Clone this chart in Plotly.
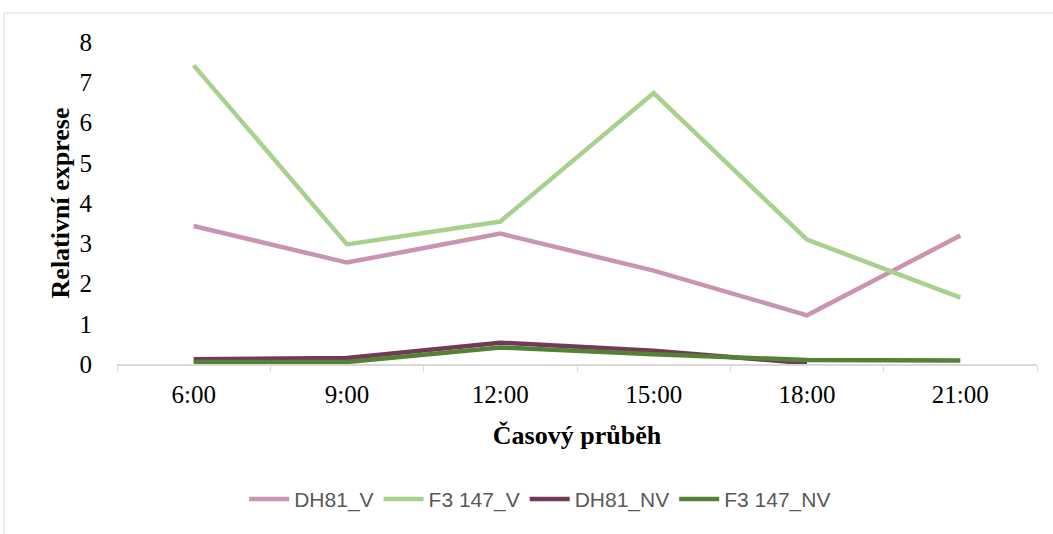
import plotly.graph_objects as go

categories = ["6:00", "9:00", "12:00", "15:00", "18:00", "21:00"]
dh81_v = [3.43, 2.52, 3.24, 2.32, 1.21, 3.19]
f3_147_v = [7.42, 2.97, 3.54, 6.73, 3.09, 1.65]
dh81_nv = [0.12, 0.15, 0.53, 0.33, 0.02, None]
f3_147_nv = [0.05, 0.05, 0.41, 0.24, 0.10, 0.09]

series = [
    ("DH81_V", dh81_v, "#C994B0"),
    ("F3 147_V", f3_147_v, "#A9D18E"),
    ("DH81_NV", dh81_nv, "#733A57"),
    ("F3 147_NV", f3_147_nv, "#548235"),
]

SERIF = "Liberation Serif, Times New Roman, serif"

fig = go.Figure()
for name, vals, col in series:
    fig.add_trace(go.Scatter(x=categories, y=vals, name=name, mode="lines",
                             line=dict(color=col, width=4.5), connectgaps=False))

fig.update_layout(
    width=1053, height=534,
    margin=dict(l=117, r=16, t=42, b=170),
    paper_bgcolor="white", plot_bgcolor="white",
    showlegend=True,
    legend=dict(orientation="h", x=0.46, xanchor="center", y=-0.42, yanchor="middle",
                font=dict(family="Liberation Sans, Arial, sans-serif", size=21, color="#595959"),
                itemwidth=40, tracegroupgap=0),
    shapes=[dict(type="rect", xref="paper", yref="paper",
                 x0=-0.1228, x1=1.03, y0=-0.56, y1=1.09,
                 line=dict(color="#D9D9D9", width=1), fillcolor="rgba(0,0,0,0)", layer="below")],
)

fig.update_xaxes(
    type="category", range=[-0.5, 5.5],
    showline=True, linecolor="#D9D9D9", linewidth=1.5,
    ticks="outside", tickson="boundaries", ticklen=6, tickcolor="#D9D9D9",
    showgrid=False, zeroline=False,
    ticklabelstandoff=7,
    tickfont=dict(family=SERIF, size=25, color="black"),
    title=dict(text="<b>Časový průběh</b>", standoff=19,
               font=dict(family=SERIF, size=26, color="black")),
)
fig.update_yaxes(
    range=[0, 8], dtick=1,
    showline=False, showgrid=False, zeroline=False, ticks="",
    ticklabelstandoff=24,
    tickfont=dict(family=SERIF, size=25, color="black"),
    title=dict(text="<b>Relativní exprese</b>", standoff=2,
               font=dict(family=SERIF, size=26, color="black")),
)

fig.write_html("out.html")
